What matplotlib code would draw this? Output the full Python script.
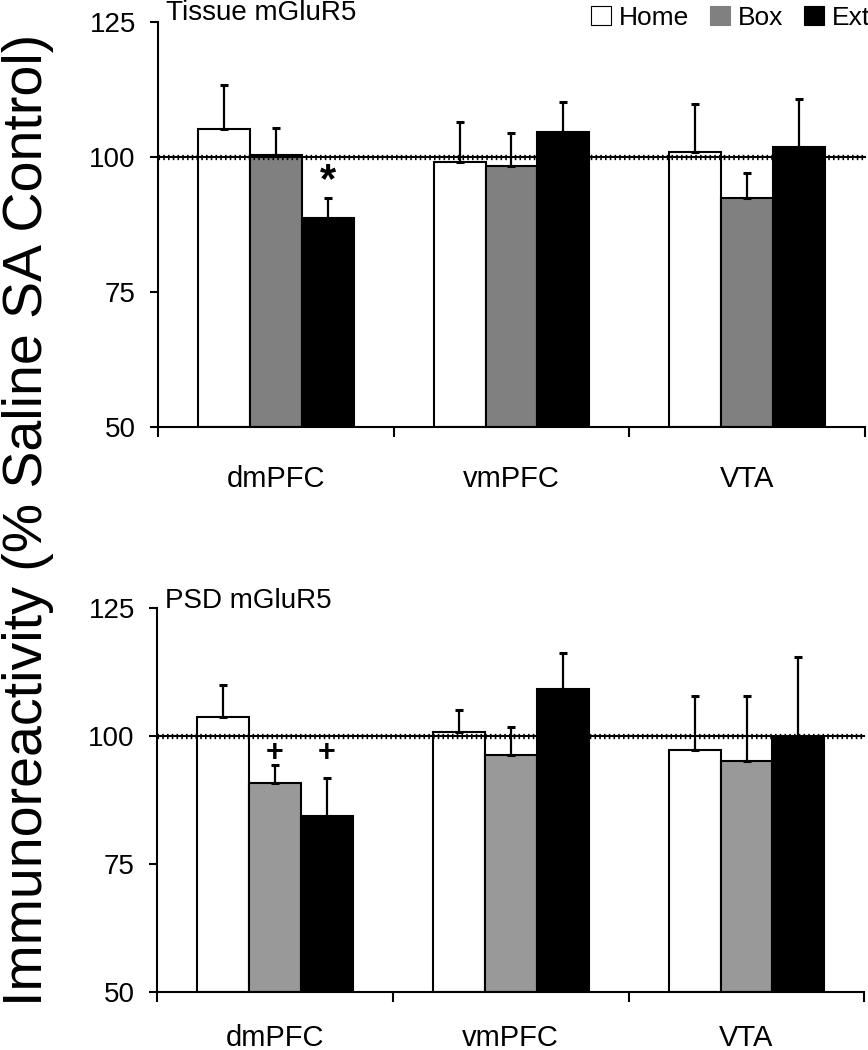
import numpy as np
import matplotlib
matplotlib.use("Agg")
import matplotlib.pyplot as plt
from matplotlib.patches import Patch

plt.rcParams['font.family'] = ['Liberation Sans', 'DejaVu Sans']

regions = ["dmPFC", "vmPFC", "VTA"]
groups = ["Home", "Box", "Ext"]

# tissue mGluR5 (% saline SA control), mean and upper SEM
tissue_home = [105.2, 99.0, 100.9]
tissue_home_err = [8.1, 7.4, 8.9]
tissue_box = [100.4, 98.3, 92.4]
tissue_box_err = [5.0, 6.1, 4.6]
tissue_ext = [88.8, 104.6, 101.9]
tissue_ext_err = [3.6, 5.6, 8.8]

# PSD mGluR5
psd_home = [103.7, 100.8, 97.2]
psd_home_err = [6.3, 4.3, 10.7]
psd_box = [90.9, 96.3, 95.1]
psd_box_err = [3.4, 5.5, 12.8]
psd_ext = [84.3, 109.1, 99.9]
psd_ext_err = [7.6, 7.2, 15.5]

yticks = [50, 75, 100, 125]


def draw_panel(ax, vals, errs, box_color, title, title_y, marks):
    x = np.arange(len(regions)) + 0.5
    w = 0.22
    colors = ["white", box_color, "black"]
    for k in range(3):
        xs = x + (k - 1) * w
        ax.bar(xs, np.array(vals[k]) - 50, bottom=50, width=w,
               color=colors[k], edgecolor="black", linewidth=1.5, zorder=2)
        ax.errorbar(xs, vals[k], yerr=[np.zeros(3), errs[k]], fmt="none",
                    ecolor="black", elinewidth=1.6, capsize=3, capthick=2.2,
                    zorder=3)
    # reference line at 100 %
    ax.axhline(100, color="black", lw=1.5, zorder=4, clip_on=False)
    ax.axhline(100, color="black", lw=3.8, ls=(0, (0.3, 0.6)), zorder=4,
               clip_on=False)

    for (k, i, sym, yv, fs) in marks:
        ax.text(x[i] + (k - 1) * w, yv, sym, ha="center", va="center",
                fontsize=fs, fontweight="bold", zorder=5)

    ax.set_xlim(0, 3)
    ax.set_ylim(50, 125)
    ax.set_yticks(yticks)
    ax.set_xticks([0, 1, 2, 3])
    ax.set_xticklabels([])
    ax.set_xticks(x, minor=True)
    ax.set_xticklabels(regions, minor=True)
    ax.tick_params(axis="x", which="minor", length=0, labelsize=21)
    ax.tick_params(axis="x", which="major", length=7, width=1.5)
    ax.tick_params(axis="y", length=6, width=1.5, labelsize=20, pad=10)
    for s in ["top", "right"]:
        ax.spines[s].set_visible(False)
    for s in ["left", "bottom"]:
        ax.spines[s].set_linewidth(1.5)
    ax.text(0.011, title_y, title, transform=ax.transAxes, fontsize=20,
            va="baseline", ha="left")


fig = plt.figure(figsize=(8.68, 10.5), dpi=100)

ax1 = fig.add_axes([0.182, 0.5933, 0.8145, 0.3857])
draw_panel(ax1, [tissue_home, tissue_box, tissue_ext],
           [tissue_home_err, tissue_box_err, tissue_ext_err],
           "#808080", "Tissue mGluR5", 1.005, [(2, 0, "*", 95.6, 30)])
ax1.tick_params(axis="x", which="minor", pad=27)

ax2 = fig.add_axes([0.1809, 0.0552, 0.815, 0.3657])
draw_panel(ax2, [psd_home, psd_box, psd_ext],
           [psd_home_err, psd_box_err, psd_ext_err],
           "#999999", "PSD mGluR5", 1.0,
           [(1, 0, "+", 96.6, 22), (2, 0, "+", 96.6, 22)])
ax2.tick_params(axis="x", which="minor", pad=23)

fig.text(0.032, 0.505, "Immunoreactivity (% Saline SA Control)",
         rotation=90, ha="center", va="center", fontsize=40)

handles = [Patch(facecolor=c, edgecolor="black" if c == "white" else c,
                 linewidth=0.8) for c in ["white", "#808080", "black"]]
fig.legend(handles, groups, loc="upper left",
           bbox_to_anchor=(591 / 868, 1 - 6 / 1050), ncol=3, frameon=False,
           fontsize=19, handlelength=0.75, handleheight=0.75,
           handletextpad=0.3, columnspacing=0.8, borderpad=0,
           borderaxespad=0)

fig.savefig("out.png", dpi=100)
